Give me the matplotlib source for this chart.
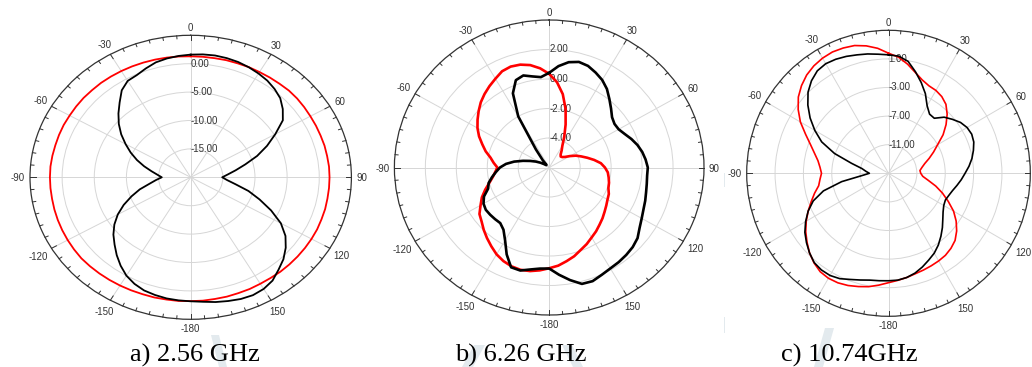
import numpy as np
import matplotlib.pyplot as plt
from matplotlib.patches import Polygon

# angle grid, degrees clockwise from north (0, 5, ..., 355)
angles = list(range(0, 360, 5))

# a) 2.56 GHz, dB
a_black = [1.6, 1.72, 1.78, 1.72, 1.6, 1.38, 1.1, 0.78, 0.3, -0.3, -1.3, -2.5,
           -4.8, -6.9, -9.0, -11.2, -12.9, -14.2, -15.1, -14.3, -12.9, -10.7, -8.6, -6.2,
           -3.8, -2.0, -0.7, 0.4, 1.25, 2.2, 2.7, 2.9, 2.8, 2.55, 2.3, 2.0,
           1.83, 1.75, 1.65, 1.45, 1.2, 0.7, 0.0, -1.0, -2.1, -3.25, -4.3, -5.5,
           -6.9, -8.5, -10.2, -11.8, -13.5, -14.6, -15.5, -14.8, -13.8, -12.5, -11.1, -9.7,
           -8.3, -6.8, -5.4, -4.1, -2.8, -1.3, -0.4, -0.15, 0.4, 0.95, 1.25, 1.45]
a_red = [1.3, 1.3, 1.3, 1.35, 1.35, 1.4, 1.4, 1.45, 1.5, 1.6, 1.6, 1.55,
         1.5, 1.5, 1.5, 1.55, 1.55, 1.6, 1.6, 1.6, 1.6, 1.65, 1.65, 1.7,
         1.7, 1.7, 1.7, 1.7, 1.7, 1.65, 1.65, 1.7, 1.7, 1.75, 1.75, 1.8,
         1.8, 1.85, 1.85, 1.9, 1.9, 1.95, 2.0, 2.05, 2.1, 2.15, 2.2, 2.15,
         2.1, 2.05, 2.0, 1.95, 1.9, 1.9, 1.9, 1.9, 1.85, 1.8, 1.8, 1.8,
         1.75, 1.75, 1.75, 1.7, 1.7, 1.65, 1.6, 1.55, 1.5, 1.45, 1.4, 1.35]

# b) 6.26 GHz
b_black = [0.42, 0.9, 1.25, 1.41, 1.33, 1.1, 0.85, 0.5, 0.05, -0.35, -0.7, -0.85,
           -0.82, -0.62, -0.35, -0.1, 0.1, 0.25, 0.37, 0.35, 0.4, 0.48, 0.6, 0.72,
           0.9, 1.13, 1.45, 1.63, 1.74, 1.83, 1.9, 2.03, 2.2, 2.17, 1.75, 1.3,
           0.85, 0.88, 1.02, 1.23, 1.2, 0.5, -0.3, -0.85, -1.08, -1.05, -1.02, -1.0,
           -1.1, -1.35, -1.8, -1.95, -2.25, -2.55, -2.82, -3.2, -3.7, -4.25, -4.7, -5.05,
           -5.35, -5.6, -5.75, -5.75, -5.35, -4.5, -2.0, -0.45, 0.3, 0.46, 0.27, 0.15]
b_red = [0.35, -0.2, -0.95, -1.9, -2.9, -3.7, -4.3, -4.6, -4.85, -4.95, -4.9, -4.75,
         -4.45, -4.1, -3.8, -3.45, -3.05, -2.65, -2.4, -2.2, -2.1, -2.0, -1.93, -1.75,
         -1.65, -1.5, -1.33, -1.13, -0.94, -0.72, -0.52, -0.27, -0.05, 0.23, 0.45, 0.68,
         0.83, 1.0, 1.13, 1.18, 1.13, 1.0, 0.8, 0.52, 0.25, -0.02, -0.3, -0.5,
         -0.88, -1.2, -1.6, -2.0, -2.3, -2.5, -2.65, -2.4, -2.15, -1.75, -1.4, -1.0,
         -0.65, -0.35, -0.05, 0.25, 0.5, 0.73, 0.95, 1.2, 1.28, 1.22, 1.05, 0.75]

# c) 10.74 GHz
c_black = [1.57, 1.45, 0.9, -0.3, -1.5, -2.7, -4.1, -4.9, -4.95, -3.9, -3.25, -2.6,
           -2.2, -2.05, -2.2, -2.6, -3.05, -3.6, -4.2, -4.7, -5.2, -5.65, -5.95, -6.15,
           -6.0, -5.6, -5.0, -4.25, -3.5, -2.75, -2.1, -1.6, -1.05, -0.55, -0.2, 0.0,
           0.03, 0.08, 0.17, 0.45, 0.8, 1.26, 1.5, 1.5, 1.3, 0.75, 0.1, -0.6,
           -1.5, -2.5, -3.7, -5.5, -8.3, -11.2, -12.3, -11.8, -11.2, -9.6, -6.9, -4.6,
           -3.0, -1.5, -0.15, 1.05, 1.9, 2.5, 2.7, 2.6, 2.4, 2.15, 1.95, 1.72]
c_red = [1.8, 1.3, 0.5, -0.4, -1.1, -1.5, -1.62, -1.9, -2.4, -3.3, -4.4, -5.6,
         -7.0, -8.0, -8.9, -9.7, -10.2, -10.55, -10.45, -10.15, -9.3, -8.1, -6.9, -5.7,
         -4.4, -3.35, -2.45, -1.72, -1.3, -1.0, -0.85, -0.73, -0.6, -0.45, -0.2, 0.03,
         0.3, 0.7, 1.1, 1.4, 1.7, 1.9, 1.95, 1.8, 1.35, 0.75, 0.0, -0.75,
         -1.6, -2.5, -3.4, -4.2, -5.0, -5.3, -5.55, -5.3, -4.9, -4.2, -3.3, -2.1,
         -0.65, 0.55, 1.6, 2.35, 2.95, 3.35, 3.6, 3.72, 3.65, 3.5, 3.1, 2.55]

tick_angles = [0, 30, 60, 90, 120, 150, 180, 210, 240, 270, 300, 330]
tick_labels = ['0', '30', '60', '90', '120', '150', '-180', '-150', '-120', '-90', '-60', '-30']

W, H = 1032, 367
fig = plt.figure(figsize=(W / 100, H / 100), dpi=100)

panels = [
    # box in px (left, top, width, height), rlim, rings, data, line width, caption, caption x
    ((30, 35.3, 321.4, 284), (-20, 5), [-15, -10, -5, 0], a_black, a_red, 1.3, 'a) 2.56 GHz', 195, True),
    ((394.4, 20, 309.6, 295), (-6, 4), [-4, -2, 0, 2], b_black, b_red, 1.9, 'b) 6.26 GHz', 521, True),
    ((746.7, 30.3, 283.6, 286), (-15, 5), [-11, -7, -3, 1], c_black, c_red, 1.2, 'c) 10.74GHz', 849.5, False),
]

for box, rlim, rings, blk, red, lw, caption, cx, show90 in panels:
    left, top, w, h = box
    ax = fig.add_axes([left / W, 1 - (top + h) / H, w / W, h / H], projection='polar')
    ax.set_aspect('auto')
    ax.set_theta_zero_location('N')
    ax.set_theta_direction(-1)

    th = np.deg2rad(angles + [angles[0]])
    ax.plot(th, red + [red[0]], color='#ff0000', lw=lw, zorder=3, solid_joinstyle='round')
    ax.plot(th, blk + [blk[0]], color='#000000', lw=lw, zorder=4, solid_joinstyle='round')

    # inward tick marks on the outer ring, every 5 degrees
    rmin, rmax = rlim
    span = rmax - rmin
    for t in range(0, 360, 5):
        L = 5 if t % 30 == 0 else 3
        ax.plot([np.deg2rad(t)] * 2, [rmax - L / (h / 2) * span, rmax],
                color='#333333', lw=0.7, zorder=5, clip_on=False)

    ax.set_ylim(rmin, rmax)

    # angle labels just outside the rim
    for t, lbl in zip(tick_angles, tick_labels):
        if t == 90 and not show90:
            continue
        s, c = np.sin(np.deg2rad(t)), np.cos(np.deg2rad(t))
        half_w = (5.4 * sum(ch.isdigit() for ch in lbl) + 3.2 * lbl.count('-')) / 2
        d = 5 + abs(s) * half_w + abs(c) * 3.5
        ax.annotate(lbl, xy=(np.deg2rad(t), rmax), xytext=(d * s * 0.72, d * c * 0.72),
                    textcoords='offset points', ha='center', va='center_baseline',
                    fontsize=7, color='#333333', family='Liberation Sans',
                    annotation_clip=False)
    ax.set_xticks(np.deg2rad(tick_angles))
    ax.set_xticklabels([])
    ax.tick_params(axis='x', length=0)

    ax.set_yticks(rings)
    ax.set_yticklabels([])
    ax.tick_params(axis='y', length=0)
    ax.grid(color='#d6d6d6', lw=0.7)
    ax.spines['polar'].set_color('#333333')
    ax.spines['polar'].set_linewidth(0.9)

    for r in rings:
        ax.text(0, r, f'{r:.2f}', ha='left', va='center', fontsize=7,
                color='#333333', family='Liberation Sans', zorder=2)

    fig.text(cx / W, (H - 361.5) / H, caption, ha='center', va='baseline',
             fontsize=19, family='Liberation Serif', color='#000000')

# faint watermark fragments behind the captions
wm = '#e3eaee'
for pts in [
    [(211, 335), (219, 335), (227, 367), (219, 367)],
    [(474, 345), (485, 345), (473, 367), (462, 367)],
    [(562, 345), (572, 345), (583, 367), (573, 367)],
    [(825, 328), (834, 328), (823, 367), (814, 367)],
    [(723.5, 173), (725, 173), (725, 187), (723.5, 187)],
    [(723.5, 317), (725, 317), (725, 333), (723.5, 333)],
]:
    fig.patches.append(Polygon([(x / W, 1 - y / H) for x, y in pts], closed=True,
                               transform=fig.transFigure, facecolor=wm,
                               edgecolor='none', zorder=-5))

fig.savefig('out.png', dpi=100)
